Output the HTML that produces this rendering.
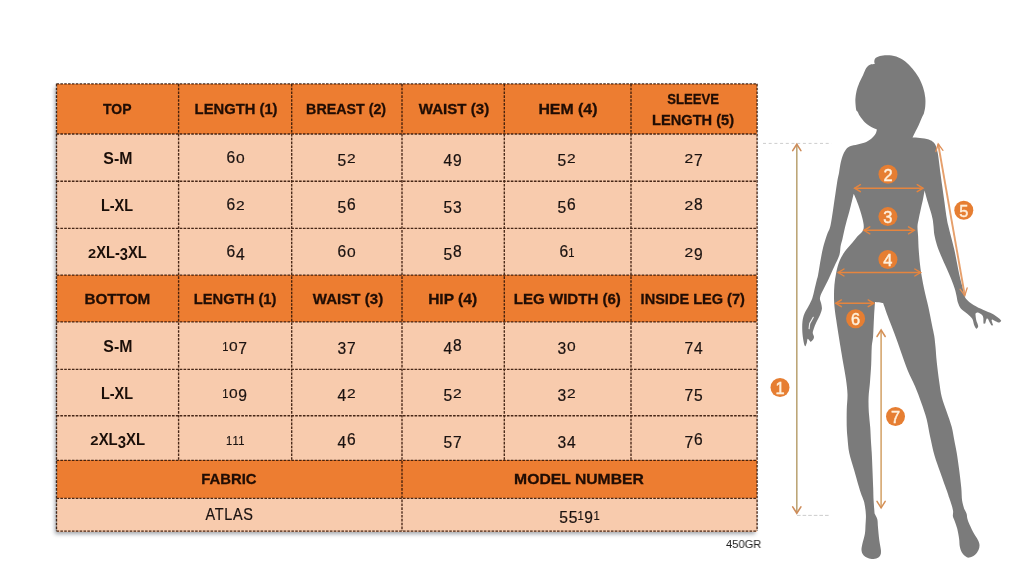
<!DOCTYPE html>
<html><head><meta charset="utf-8"><title>Size chart</title>
<style>
html,body{margin:0;padding:0;background:#fff;}
body{width:1024px;height:584px;position:relative;overflow:hidden;font-family:"Liberation Sans",sans-serif;color:#1c0d06;}
.bg{position:absolute;}
.c{position:absolute;display:flex;align-items:center;justify-content:center;text-align:center;white-space:nowrap;}
.c{will-change:transform}
.c span{display:inline-block;transform-origin:50% 50%;position:relative;top:1.20px}
.h span{top:0.00px;-webkit-text-stroke:0.3px #200d04;font-weight:bold;font-size:15.00px;transform:scaleX(0.880);line-height:21px;color:#200d04;}
.l span{top:0.70px;font-weight:bold;font-size:16.20px;transform:scaleX(0.900);color:#1a0e08;}
.n span{top:0.50px;font-size:16.60px;transform:scaleX(0.940);color:#1a1210;letter-spacing:0.75px;-webkit-text-stroke:0.22px #1a1210;}
i{font-style:normal;position:relative;display:inline-block}
i.o{transform:scaleY(0.78);transform-origin:50% 81%;}
i.one{margin:0 -1.75px;transform:scale(0.72,0.78);}
i.d{top:0.18em;}
b{display:block;transform:scaleX(0.90);}
svg{position:absolute;left:0;top:0;}
.note{will-change:transform;position:absolute;left:726px;top:538.3px;font-size:11.4px;color:#222;transform:scaleX(0.98);transform-origin:0 0;line-height:12px}
</style></head><body>

<div class="bg" style="left:56.5px;top:83.8px;width:700.6px;height:447.3px;box-shadow:-2px 2.5px 4px rgba(20,30,45,0.4);"></div>
<div class="bg" style="left:56.5px;top:83.8px;width:700.6px;height:50.7px;background:#ED7D31"></div>
<div class="bg" style="left:56.5px;top:134.0px;width:700.6px;height:47.7px;background:#F8CBAD"></div>
<div class="bg" style="left:56.5px;top:181.2px;width:700.6px;height:47.7px;background:#F8CBAD"></div>
<div class="bg" style="left:56.5px;top:228.4px;width:700.6px;height:47.2px;background:#F8CBAD"></div>
<div class="bg" style="left:56.5px;top:275.1px;width:700.6px;height:47.3px;background:#ED7D31"></div>
<div class="bg" style="left:56.5px;top:321.9px;width:700.6px;height:47.9px;background:#F8CBAD"></div>
<div class="bg" style="left:56.5px;top:369.3px;width:700.6px;height:46.9px;background:#F8CBAD"></div>
<div class="bg" style="left:56.5px;top:415.7px;width:700.6px;height:45.1px;background:#F8CBAD"></div>
<div class="bg" style="left:56.5px;top:460.3px;width:700.6px;height:38.6px;background:#ED7D31"></div>
<div class="bg" style="left:56.5px;top:498.4px;width:700.6px;height:33.2px;background:#F8CBAD"></div>
<div class="c h" style="left:56.5px;top:83.8px;width:122.1px;height:50.2px"><span style="transform:scaleX(0.9311);left:-0.50px;top:-0.60px">TOP</span></div>
<div class="c h" style="left:178.6px;top:83.8px;width:113.1px;height:50.2px"><span style="transform:scaleX(0.9853);left:0.16px;top:-0.60px">LENGTH (1)</span></div>
<div class="c h" style="left:291.7px;top:83.8px;width:110.3px;height:50.2px"><span style="transform:scaleX(0.9505);left:-0.62px;top:-0.60px">BREAST (2)</span></div>
<div class="c h" style="left:402.0px;top:83.8px;width:102.3px;height:50.2px"><span style="transform:scaleX(1.0046);left:0.63px;top:-0.60px">WAIST (3)</span></div>
<div class="c h" style="left:504.3px;top:83.8px;width:126.7px;height:50.2px"><span style="transform:scaleX(1.0563);left:0.61px;top:-0.60px">HEM (4)</span></div>
<div class="c h" style="left:631.0px;top:83.8px;width:126.1px;height:50.2px"><span style="transform:scaleX(0.9737);left:-0.84px;top:-0.60px"><b>SLEEVE</b>LENGTH (5)</span></div>
<div class="c l" style="left:56.5px;top:134.0px;width:122.1px;height:47.2px"><span style="transform:scaleX(0.9803);left:-0.63px;top:0.70px">S-M</span></div>
<div class="c n" style="left:178.6px;top:134.0px;width:113.1px;height:47.2px"><span><i>6</i><i class="o">0</i></span></div>
<div class="c n" style="left:291.7px;top:134.0px;width:110.3px;height:47.2px"><span><i class="d">5</i><i class="o">2</i></span></div>
<div class="c n" style="left:402.0px;top:134.0px;width:102.3px;height:47.2px"><span><i class="d">4</i><i class="d">9</i></span></div>
<div class="c n" style="left:504.3px;top:134.0px;width:126.7px;height:47.2px"><span><i class="d">5</i><i class="o">2</i></span></div>
<div class="c n" style="left:631.0px;top:134.0px;width:126.1px;height:47.2px"><span><i class="o">2</i><i class="d">7</i></span></div>
<div class="c l" style="left:56.5px;top:181.2px;width:122.1px;height:47.2px"><span style="transform:scaleX(0.8928);left:-1.06px;top:1.10px">L-XL</span></div>
<div class="c n" style="left:178.6px;top:181.2px;width:113.1px;height:47.2px"><span style="top:0.90px"><i>6</i><i class="o">2</i></span></div>
<div class="c n" style="left:291.7px;top:181.2px;width:110.3px;height:47.2px"><span style="top:0.90px"><i class="d">5</i><i>6</i></span></div>
<div class="c n" style="left:402.0px;top:181.2px;width:102.3px;height:47.2px"><span style="top:0.90px"><i class="d">5</i><i class="d">3</i></span></div>
<div class="c n" style="left:504.3px;top:181.2px;width:126.7px;height:47.2px"><span style="top:0.90px"><i class="d">5</i><i>6</i></span></div>
<div class="c n" style="left:631.0px;top:181.2px;width:126.1px;height:47.2px"><span style="top:0.90px"><i class="o">2</i><i>8</i></span></div>
<div class="c l" style="left:56.5px;top:228.4px;width:122.1px;height:46.7px"><span style="transform:scaleX(0.9039);left:-0.37px;top:0.70px"><i class="o">2</i>XL-<i class="d">3</i>XL</span></div>
<div class="c n" style="left:178.6px;top:228.4px;width:113.1px;height:46.7px"><span><i>6</i><i class="d">4</i></span></div>
<div class="c n" style="left:291.7px;top:228.4px;width:110.3px;height:46.7px"><span><i>6</i><i class="o">0</i></span></div>
<div class="c n" style="left:402.0px;top:228.4px;width:102.3px;height:46.7px"><span><i class="d">5</i><i>8</i></span></div>
<div class="c n" style="left:504.3px;top:228.4px;width:126.7px;height:46.7px"><span><i>6</i><i class="o one">1</i></span></div>
<div class="c n" style="left:631.0px;top:228.4px;width:126.1px;height:46.7px"><span><i class="o">2</i><i class="d">9</i></span></div>
<div class="c h" style="left:56.5px;top:275.1px;width:122.1px;height:46.8px"><span style="transform:scaleX(1.0177);left:-0.87px;top:0.00px">BOTTOM</span></div>
<div class="c h" style="left:178.6px;top:275.1px;width:113.1px;height:46.8px"><span style="transform:scaleX(0.9816);left:-0.34px;top:0.00px">LENGTH (1)</span></div>
<div class="c h" style="left:291.7px;top:275.1px;width:110.3px;height:46.8px"><span style="transform:scaleX(1.0046);left:0.38px;top:0.00px">WAIST (3)</span></div>
<div class="c h" style="left:402.0px;top:275.1px;width:102.3px;height:46.8px"><span style="transform:scaleX(1.0365);left:-0.13px;top:0.00px">HIP (4)</span></div>
<div class="c h" style="left:504.3px;top:275.1px;width:126.7px;height:46.8px"><span style="transform:scaleX(1.0029);left:-0.46px;top:0.00px">LEG WIDTH (6)</span></div>
<div class="c h" style="left:631.0px;top:275.1px;width:126.1px;height:46.8px"><span style="transform:scaleX(0.9700);left:-1.00px;top:0.00px">INSIDE LEG (7)</span></div>
<div class="c l" style="left:56.5px;top:321.9px;width:122.1px;height:47.4px"><span style="transform:scaleX(0.9803);left:-0.63px;top:0.70px">S-M</span></div>
<div class="c n" style="left:178.6px;top:321.9px;width:113.1px;height:47.4px"><span><i class="o one">1</i><i class="o">0</i><i class="d">7</i></span></div>
<div class="c n" style="left:291.7px;top:321.9px;width:110.3px;height:47.4px"><span><i class="d">3</i><i class="d">7</i></span></div>
<div class="c n" style="left:402.0px;top:321.9px;width:102.3px;height:47.4px"><span><i class="d">4</i><i>8</i></span></div>
<div class="c n" style="left:504.3px;top:321.9px;width:126.7px;height:47.4px"><span><i class="d">3</i><i class="o">0</i></span></div>
<div class="c n" style="left:631.0px;top:321.9px;width:126.1px;height:47.4px"><span><i class="d">7</i><i class="d">4</i></span></div>
<div class="c l" style="left:56.5px;top:369.3px;width:122.1px;height:46.4px"><span style="transform:scaleX(0.8928);left:-1.06px;top:1.10px">L-XL</span></div>
<div class="c n" style="left:178.6px;top:369.3px;width:113.1px;height:46.4px"><span style="top:0.90px"><i class="o one">1</i><i class="o">0</i><i class="d">9</i></span></div>
<div class="c n" style="left:291.7px;top:369.3px;width:110.3px;height:46.4px"><span style="top:0.90px"><i class="d">4</i><i class="o">2</i></span></div>
<div class="c n" style="left:402.0px;top:369.3px;width:102.3px;height:46.4px"><span style="top:0.90px"><i class="d">5</i><i class="o">2</i></span></div>
<div class="c n" style="left:504.3px;top:369.3px;width:126.7px;height:46.4px"><span style="top:0.90px"><i class="d">3</i><i class="o">2</i></span></div>
<div class="c n" style="left:631.0px;top:369.3px;width:126.1px;height:46.4px"><span style="top:0.90px"><i class="d">7</i><i class="d">5</i></span></div>
<div class="c l" style="left:56.5px;top:415.7px;width:122.1px;height:44.6px"><span style="transform:scaleX(0.9214);left:-0.13px;top:1.50px"><i class="o">2</i>XL<i class="d">3</i>XL</span></div>
<div class="c n" style="left:178.6px;top:415.7px;width:113.1px;height:44.6px"><span style="top:1.30px"><i class="o one">1</i><i class="o one">1</i><i class="o one">1</i></span></div>
<div class="c n" style="left:291.7px;top:415.7px;width:110.3px;height:44.6px"><span style="top:1.30px"><i class="d">4</i><i>6</i></span></div>
<div class="c n" style="left:402.0px;top:415.7px;width:102.3px;height:44.6px"><span style="top:1.30px"><i class="d">5</i><i class="d">7</i></span></div>
<div class="c n" style="left:504.3px;top:415.7px;width:126.7px;height:44.6px"><span style="top:1.30px"><i class="d">3</i><i class="d">4</i></span></div>
<div class="c n" style="left:631.0px;top:415.7px;width:126.1px;height:44.6px"><span style="top:1.30px"><i class="d">7</i><i>6</i></span></div>
<div class="c h" style="left:56.5px;top:460.3px;width:345.5px;height:38.1px"><span style="transform:scaleX(0.9895);left:-0.77px;top:-0.80px">FABRIC</span></div>
<div class="c h" style="left:402.0px;top:460.3px;width:355.1px;height:38.1px"><span style="transform:scaleX(1.0466);left:-0.39px;top:-0.80px">MODEL NUMBER</span></div>
<div class="c n" style="left:56.5px;top:498.4px;width:345.5px;height:32.7px"><span style="transform:scaleX(0.8714);left:0.14px;top:0.50px">ATLAS</span></div>
<div class="c n" style="left:402.0px;top:498.4px;width:355.1px;height:32.7px"><span><i class="d">5</i><i class="d">5</i><i class="o one">1</i><i class="d">9</i><i class="o one">1</i></span></div>
<div class="note">450GR</div>
<svg width="1024" height="584" viewBox="0 0 1024 584">
<g stroke="#38190a" stroke-width="1.35" stroke-dasharray="2.6 1.25" fill="none" opacity="0.92">
<line x1="56.5" y1="83.8" x2="757.1" y2="83.8"/>
<line x1="56.5" y1="134.0" x2="757.1" y2="134.0"/>
<line x1="56.5" y1="181.2" x2="757.1" y2="181.2"/>
<line x1="56.5" y1="228.4" x2="757.1" y2="228.4"/>
<line x1="56.5" y1="275.1" x2="757.1" y2="275.1"/>
<line x1="56.5" y1="321.9" x2="757.1" y2="321.9"/>
<line x1="56.5" y1="369.3" x2="757.1" y2="369.3"/>
<line x1="56.5" y1="415.7" x2="757.1" y2="415.7"/>
<line x1="56.5" y1="460.3" x2="757.1" y2="460.3"/>
<line x1="56.5" y1="498.4" x2="757.1" y2="498.4"/>
<line x1="56.5" y1="531.1" x2="757.1" y2="531.1"/>
<line x1="56.5" y1="83.8" x2="56.5" y2="531.1"/>
<line x1="757.1" y1="83.8" x2="757.1" y2="531.1"/>
<line x1="178.6" y1="83.8" x2="178.6" y2="460.3"/>
<line x1="291.7" y1="83.8" x2="291.7" y2="460.3"/>
<line x1="504.3" y1="83.8" x2="504.3" y2="460.3"/>
<line x1="631.0" y1="83.8" x2="631.0" y2="460.3"/>
<line x1="402.0" y1="83.8" x2="402.0" y2="531.1"/>
</g>
<path d="M874.75 64.00 C874.67 63.53 874.16 62.18 874.30 61.20 C874.44 60.22 874.65 58.97 875.60 58.10 C876.55 57.23 878.02 56.48 880.00 56.00 C881.98 55.52 884.79 55.17 887.50 55.25 C890.21 55.33 893.33 55.50 896.25 56.50 C899.17 57.50 902.29 59.21 905.00 61.25 C907.71 63.29 910.21 66.04 912.50 68.75 C914.79 71.46 916.98 74.38 918.75 77.50 C920.52 80.62 922.02 84.17 923.10 87.50 C924.18 90.83 924.89 94.38 925.25 97.50 C925.61 100.62 925.46 103.67 925.25 106.25 C925.04 108.83 924.46 111.33 924.00 113.00 C923.54 114.67 923.38 114.25 922.50 116.25 C921.62 118.25 920.00 122.29 918.75 125.00 C917.50 127.71 916.04 130.42 915.00 132.50 C913.96 134.58 912.92 136.67 912.50 137.50 C913.75 137.57 917.29 137.58 920.00 137.90 C922.71 138.22 926.46 138.63 928.75 139.40 C931.04 140.17 932.50 141.25 933.75 142.50 C935.00 143.75 935.52 144.82 936.25 146.90 C936.98 148.98 937.58 151.98 938.10 155.00 C938.62 158.02 939.02 162.00 939.40 165.00 C939.78 168.00 939.93 169.50 940.40 173.00 C940.87 176.50 941.55 181.33 942.20 186.00 C942.85 190.67 943.55 195.67 944.30 201.00 C945.05 206.33 946.07 214.00 946.70 218.00 C947.33 222.00 947.34 221.75 948.10 225.00 C948.86 228.25 950.20 233.33 951.25 237.50 C952.30 241.67 953.46 245.83 954.40 250.00 C955.34 254.17 956.07 258.33 956.90 262.50 C957.73 266.67 958.57 271.25 959.40 275.00 C960.23 278.75 961.10 281.92 961.90 285.00 C962.70 288.08 963.52 291.21 964.20 293.50 C964.88 295.79 964.45 296.83 966.00 298.75 C967.55 300.67 970.58 303.12 973.50 305.00 C976.42 306.88 980.38 308.54 983.50 310.00 C986.62 311.46 989.75 312.40 992.25 313.75 C994.75 315.10 997.00 316.93 998.50 318.10 C1000.00 319.28 1000.79 320.35 1001.25 320.80 C1000.92 321.10 1000.17 322.47 999.30 322.60 C998.42 322.73 997.12 322.12 996.00 321.60 C994.88 321.08 993.17 319.85 992.60 319.50 C992.43 319.65 991.50 319.43 991.60 320.40 C991.70 321.37 992.93 324.48 993.20 325.30 C992.87 325.25 992.03 326.02 991.20 325.00 C990.37 323.98 988.70 320.17 988.20 319.20 C987.93 319.12 987.10 317.97 986.60 318.70 C986.10 319.43 985.43 322.78 985.20 323.60 C984.93 323.57 983.90 324.27 983.60 323.40 C983.30 322.53 983.43 319.23 983.40 318.40 C983.21 317.87 983.22 316.17 982.25 315.20 C981.28 314.23 978.74 312.84 977.60 312.60 C976.46 312.36 975.77 313.56 975.40 313.75 C975.53 314.79 975.73 317.92 976.20 320.00 C976.67 322.08 978.18 324.75 978.20 326.25 C978.22 327.75 976.62 328.54 976.30 329.00 C975.93 328.33 974.77 326.71 974.10 325.00 C973.43 323.29 973.39 320.62 972.25 318.75 C971.11 316.88 969.12 315.42 967.25 313.75 C965.38 312.08 962.56 310.62 961.00 308.75 C959.44 306.88 958.63 304.58 957.90 302.50 C957.17 300.42 957.12 298.54 956.60 296.25 C956.08 293.96 955.67 291.67 954.75 288.75 C953.83 285.83 952.52 282.29 951.10 278.75 C949.68 275.21 947.89 271.25 946.25 267.50 C944.61 263.75 942.81 260.00 941.25 256.25 C939.69 252.50 938.04 248.54 936.90 245.00 C935.76 241.46 934.97 238.17 934.40 235.00 C933.83 231.83 933.80 228.67 933.50 226.00 C933.20 223.33 933.08 221.46 932.60 219.00 C932.12 216.54 931.45 214.21 930.60 211.25 C929.75 208.29 928.50 204.69 927.50 201.25 C926.50 197.81 925.08 192.38 924.60 190.60 C924.35 191.96 923.77 195.52 923.10 198.75 C922.43 201.98 921.33 206.67 920.60 210.00 C919.88 213.33 919.27 216.04 918.75 218.75 C918.23 221.46 917.61 223.33 917.50 226.25 C917.39 229.17 917.88 232.12 918.10 236.25 C918.32 240.38 918.40 245.62 918.80 251.00 C919.20 256.38 919.62 262.21 920.50 268.50 C921.38 274.79 922.77 282.25 924.10 288.75 C925.43 295.25 927.14 301.25 928.50 307.50 C929.86 313.75 931.29 321.50 932.25 326.25 C933.21 331.00 933.71 332.54 934.25 336.00 C934.79 339.46 935.08 342.67 935.50 347.00 C935.92 351.33 936.12 356.17 936.75 362.00 C937.38 367.83 938.42 376.17 939.25 382.00 C940.08 387.83 940.50 392.00 941.75 397.00 C943.00 402.00 945.08 407.00 946.75 412.00 C948.42 417.00 950.50 422.33 951.75 427.00 C953.00 431.67 953.42 435.67 954.25 440.00 C955.08 444.33 955.92 447.92 956.75 453.00 C957.58 458.08 958.49 464.67 959.25 470.50 C960.01 476.33 960.82 483.00 961.30 488.00 C961.77 493.00 961.61 497.00 962.10 500.50 C962.59 504.00 963.89 507.58 964.25 509.00 C964.64 509.79 966.08 512.12 966.60 513.75 C967.12 515.38 966.88 516.88 967.40 518.75 C967.92 520.62 968.63 522.50 969.75 525.00 C970.87 527.50 972.74 531.25 974.10 533.75 C975.46 536.25 977.00 538.12 977.90 540.00 C978.80 541.88 979.40 543.33 979.50 545.00 C979.60 546.67 979.29 548.33 978.50 550.00 C977.71 551.67 976.32 553.73 974.75 555.00 C973.18 556.27 970.66 557.39 969.10 557.60 C967.54 557.81 966.65 557.20 965.40 556.25 C964.15 555.30 962.54 553.57 961.60 551.90 C960.66 550.23 960.17 548.44 959.75 546.25 C959.33 544.06 959.52 541.67 959.10 538.75 C958.68 535.83 957.98 531.67 957.25 528.75 C956.52 525.83 955.48 523.33 954.75 521.25 C954.02 519.17 953.17 517.92 952.90 516.25 C952.62 514.58 953.32 513.12 953.10 511.25 C952.88 509.38 952.27 507.29 951.60 505.00 C950.93 502.71 949.91 499.92 949.10 497.50 C948.29 495.08 948.18 494.58 946.75 490.50 C945.32 486.42 942.54 478.83 940.50 473.00 C938.46 467.17 936.22 461.50 934.50 455.50 C932.78 449.50 931.52 443.08 930.20 437.00 C928.88 430.92 928.10 424.75 926.60 419.00 C925.10 413.25 923.13 407.96 921.20 402.50 C919.27 397.04 917.28 391.67 915.00 386.25 C912.72 380.83 909.83 375.71 907.50 370.00 C905.17 364.29 903.12 357.92 901.00 352.00 C898.88 346.08 896.87 340.08 894.80 334.50 C892.73 328.92 890.55 323.73 888.60 318.50 C886.65 313.27 884.02 305.67 883.10 303.10 C882.42 302.97 880.35 302.50 879.00 302.30 C877.65 302.10 875.67 301.97 875.00 301.90 C874.83 304.50 874.32 311.77 874.00 317.50 C873.68 323.23 873.48 331.33 873.10 336.25 C872.73 341.17 872.07 342.29 871.75 347.00 C871.43 351.71 871.49 358.67 871.20 364.50 C870.91 370.33 870.43 376.58 870.00 382.00 C869.57 387.42 868.80 392.00 868.60 397.00 C868.40 402.00 868.53 407.00 868.80 412.00 C869.07 417.00 869.83 422.00 870.20 427.00 C870.57 432.00 870.74 437.67 871.00 442.00 C871.26 446.33 871.50 448.25 871.75 453.00 C872.00 457.75 872.26 464.67 872.50 470.50 C872.74 476.33 873.02 483.00 873.20 488.00 C873.38 493.00 873.37 496.27 873.60 500.50 C873.83 504.73 874.43 511.25 874.60 513.40 C875.05 514.37 876.73 516.85 877.30 519.20 C877.87 521.55 877.67 524.03 878.00 527.50 C878.33 530.97 878.77 536.25 879.25 540.00 C879.73 543.75 880.71 547.50 880.90 550.00 C881.09 552.50 880.98 553.65 880.40 555.00 C879.82 556.35 878.84 557.42 877.40 558.10 C875.96 558.78 873.52 559.18 871.75 559.10 C869.98 559.02 868.21 558.38 866.75 557.60 C865.29 556.82 863.88 555.67 863.00 554.40 C862.12 553.13 861.60 551.77 861.50 550.00 C861.40 548.23 861.83 546.46 862.40 543.75 C862.97 541.04 864.38 536.88 864.90 533.75 C865.42 530.62 865.33 528.12 865.50 525.00 C865.67 521.88 866.11 518.75 865.90 515.00 C865.69 511.25 865.18 506.42 864.25 502.50 C863.32 498.58 861.97 496.83 860.30 491.50 C858.63 486.17 856.09 476.92 854.25 470.50 C852.41 464.08 850.38 458.42 849.25 453.00 C848.12 447.58 847.92 442.33 847.50 438.00 C847.08 433.67 846.88 431.75 846.75 427.00 C846.62 422.25 846.62 414.92 846.75 409.50 C846.88 404.08 847.62 399.50 847.50 394.50 C847.38 389.50 846.75 384.92 846.00 379.50 C845.25 374.08 843.92 367.42 843.00 362.00 C842.08 356.58 841.21 351.29 840.50 347.00 C839.79 342.71 839.46 340.75 838.75 336.25 C838.04 331.75 836.94 324.71 836.25 320.00 C835.56 315.29 834.98 311.75 834.60 308.00 C834.23 304.25 834.03 301.33 834.00 297.50 C833.97 293.67 834.02 289.17 834.40 285.00 C834.77 280.83 835.42 276.46 836.25 272.50 C837.08 268.54 837.94 264.79 839.40 261.25 C840.86 257.71 842.82 254.38 845.00 251.25 C847.18 248.12 850.42 245.00 852.50 242.50 C854.58 240.00 855.83 238.12 857.50 236.25 C859.17 234.38 861.46 232.92 862.50 231.25 C863.54 229.58 863.75 228.33 863.75 226.25 C863.75 224.17 863.12 221.46 862.50 218.75 C861.88 216.04 860.93 212.92 860.00 210.00 C859.07 207.08 857.94 203.96 856.90 201.25 C855.86 198.54 854.27 195.00 853.75 193.75 C853.44 195.00 852.62 198.33 851.90 201.25 C851.17 204.17 850.23 208.12 849.40 211.25 C848.57 214.38 847.73 216.88 846.90 220.00 C846.07 223.12 845.13 226.88 844.40 230.00 C843.67 233.12 843.13 236.04 842.50 238.75 C841.87 241.46 841.12 243.54 840.60 246.25 C840.08 248.96 840.43 251.67 839.40 255.00 C838.37 258.33 836.17 262.29 834.40 266.25 C832.62 270.21 830.52 275.00 828.75 278.75 C826.98 282.50 825.21 285.62 823.75 288.75 C822.29 291.88 820.42 295.00 820.00 297.50 C819.58 300.00 820.93 301.88 821.25 303.75 C821.57 305.62 822.11 306.88 821.90 308.75 C821.69 310.62 820.94 312.71 820.00 315.00 C819.06 317.29 817.29 320.21 816.25 322.50 C815.21 324.79 814.33 326.98 813.75 328.75 C813.17 330.52 812.71 331.74 812.75 333.10 C812.79 334.46 814.00 335.75 814.00 336.90 C814.00 338.05 813.32 339.17 812.75 340.00 C812.18 340.83 810.96 341.58 810.60 341.90 C810.12 341.38 808.37 338.65 807.75 338.75 C807.13 338.85 807.26 341.25 806.90 342.50 C806.54 343.75 805.82 345.62 805.60 346.25 C805.40 346.04 804.82 346.25 804.40 345.00 C803.98 343.75 803.46 341.25 803.10 338.75 C802.74 336.25 802.35 332.92 802.25 330.00 C802.15 327.08 802.14 323.96 802.50 321.25 C802.86 318.54 803.36 316.32 804.40 313.75 C805.44 311.18 807.43 308.38 808.75 305.80 C810.07 303.23 811.34 301.02 812.30 298.30 C813.26 295.58 813.75 292.55 814.50 289.50 C815.25 286.45 816.20 282.42 816.80 280.00 C817.40 277.58 817.47 278.33 818.10 275.00 C818.73 271.67 819.77 264.58 820.60 260.00 C821.43 255.42 822.05 251.67 823.10 247.50 C824.15 243.33 825.75 238.33 826.90 235.00 C828.05 231.67 829.17 230.42 830.00 227.50 C830.83 224.58 831.27 221.25 831.90 217.50 C832.52 213.75 833.13 209.17 833.75 205.00 C834.37 200.83 834.98 196.67 835.60 192.50 C836.23 188.33 836.93 183.25 837.50 180.00 C838.07 176.75 838.54 175.50 839.00 173.00 C839.46 170.50 839.67 167.79 840.25 165.00 C840.83 162.21 841.61 158.75 842.50 156.25 C843.39 153.75 844.35 151.67 845.60 150.00 C846.85 148.33 848.02 147.18 850.00 146.25 C851.98 145.32 855.00 145.03 857.50 144.40 C860.00 143.78 862.71 143.44 865.00 142.50 C867.29 141.56 869.48 140.21 871.25 138.75 C873.02 137.29 874.66 135.31 875.60 133.75 C876.54 132.19 876.68 130.12 876.90 129.40 C875.96 128.98 873.23 128.05 871.25 126.90 C869.27 125.75 866.88 124.28 865.00 122.50 C863.12 120.72 861.23 118.03 860.00 116.25 C858.77 114.47 858.22 112.81 857.60 111.80 C856.98 110.79 856.63 111.33 856.30 110.20 C855.97 109.07 855.75 106.91 855.60 105.00 C855.45 103.09 855.25 101.04 855.40 98.75 C855.55 96.46 855.83 93.96 856.50 91.25 C857.17 88.54 858.30 85.21 859.40 82.50 C860.50 79.79 861.96 77.40 863.10 75.00 C864.24 72.60 865.10 69.81 866.25 68.10 C867.40 66.39 868.58 65.43 870.00 64.75 C871.42 64.07 873.96 64.12 874.75 64.00 Z" fill="#7b7b7b"/>
<path d="M813.3 317.3 L809.7 323.6 L809.1 328.6" stroke="#fff" stroke-width="1.15" stroke-linecap="round" stroke-linejoin="round" fill="none" opacity="0.9"/>
<g stroke="#cdcdcd" stroke-width="1" stroke-dasharray="3 2.7" fill="none"><line x1="763" y1="143.4" x2="831.5" y2="143.4"/><line x1="797" y1="515.4" x2="830.5" y2="515.4" stroke-dasharray="3.6 2" stroke="#c6c6c6" stroke-width="0.9"/></g>
<line x1="854.60" y1="188.20" x2="923.00" y2="188.20" stroke="#E5853F" stroke-width="1.45"/><polyline points="860.40,184.70 854.60,188.20 860.40,191.70" fill="none" stroke="#E5853F" stroke-width="1.45" stroke-linejoin="miter" stroke-linecap="round"/><polyline points="917.20,191.70 923.00,188.20 917.20,184.70" fill="none" stroke="#E5853F" stroke-width="1.45" stroke-linejoin="miter" stroke-linecap="round"/>
<line x1="864.00" y1="230.30" x2="914.30" y2="230.30" stroke="#E5853F" stroke-width="1.45"/><polyline points="869.80,226.80 864.00,230.30 869.80,233.80" fill="none" stroke="#E5853F" stroke-width="1.45" stroke-linejoin="miter" stroke-linecap="round"/><polyline points="908.50,233.80 914.30,230.30 908.50,226.80" fill="none" stroke="#E5853F" stroke-width="1.45" stroke-linejoin="miter" stroke-linecap="round"/>
<line x1="838.20" y1="272.50" x2="920.60" y2="272.50" stroke="#E5853F" stroke-width="1.45"/><polyline points="844.00,269.00 838.20,272.50 844.00,276.00" fill="none" stroke="#E5853F" stroke-width="1.45" stroke-linejoin="miter" stroke-linecap="round"/><polyline points="914.80,276.00 920.60,272.50 914.80,269.00" fill="none" stroke="#E5853F" stroke-width="1.45" stroke-linejoin="miter" stroke-linecap="round"/>
<line x1="835.80" y1="303.30" x2="873.80" y2="303.30" stroke="#E5853F" stroke-width="1.45"/><polyline points="841.40,299.90 835.80,303.30 841.40,306.70" fill="none" stroke="#E5853F" stroke-width="1.45" stroke-linejoin="miter" stroke-linecap="round"/><polyline points="868.20,306.70 873.80,303.30 868.20,299.90" fill="none" stroke="#E5853F" stroke-width="1.45" stroke-linejoin="miter" stroke-linecap="round"/>
<line x1="938.20" y1="144.00" x2="964.80" y2="295.50" stroke="#E6A06C" stroke-width="1.90"/><polyline points="942.96,150.27 938.20,144.00 935.86,151.52" fill="none" stroke="#E0915A" stroke-width="1.30" stroke-linejoin="miter" stroke-linecap="round"/><polyline points="960.04,289.23 964.80,295.50 967.14,287.98" fill="none" stroke="#E0915A" stroke-width="1.30" stroke-linejoin="miter" stroke-linecap="round"/>
<line x1="796.80" y1="144.30" x2="796.80" y2="513.20" stroke="#BDA678" stroke-width="1.60"/><polyline points="800.90,150.60 796.80,144.30 792.70,150.60" fill="none" stroke="#CE8C5A" stroke-width="1.60" stroke-linejoin="miter" stroke-linecap="round"/><polyline points="792.70,506.90 796.80,513.20 800.90,506.90" fill="none" stroke="#CE8C5A" stroke-width="1.60" stroke-linejoin="miter" stroke-linecap="round"/>
<line x1="881.10" y1="330.00" x2="881.10" y2="507.90" stroke="#D3A064" stroke-width="1.50"/><polyline points="885.20,336.50 881.10,330.00 877.00,336.50" fill="none" stroke="#D58F55" stroke-width="1.50" stroke-linejoin="miter" stroke-linecap="round"/><polyline points="877.00,501.40 881.10,507.90 885.20,501.40" fill="none" stroke="#D58F55" stroke-width="1.50" stroke-linejoin="miter" stroke-linecap="round"/>
<circle cx="888.00" cy="174.30" r="9.50" fill="#E67E32"/><text x="888.00" y="180.60" text-anchor="middle" font-family="Liberation Sans, sans-serif" font-size="16.4" fill="#fff0dc" stroke="#fff0dc" stroke-width="0.45">2</text>
<circle cx="887.90" cy="216.60" r="9.50" fill="#E67E32"/><text x="887.90" y="222.90" text-anchor="middle" font-family="Liberation Sans, sans-serif" font-size="16.4" fill="#fff0dc" stroke="#fff0dc" stroke-width="0.45">3</text>
<circle cx="887.90" cy="259.50" r="9.50" fill="#E67E32"/><text x="887.90" y="265.80" text-anchor="middle" font-family="Liberation Sans, sans-serif" font-size="16.4" fill="#fff0dc" stroke="#fff0dc" stroke-width="0.45">4</text>
<circle cx="963.80" cy="210.30" r="9.50" fill="#E67E32"/><text x="963.80" y="216.60" text-anchor="middle" font-family="Liberation Sans, sans-serif" font-size="16.4" fill="#fff0dc" stroke="#fff0dc" stroke-width="0.45">5</text>
<circle cx="855.60" cy="318.70" r="9.50" fill="#E67E32"/><text x="855.60" y="325.00" text-anchor="middle" font-family="Liberation Sans, sans-serif" font-size="16.4" fill="#fff0dc" stroke="#fff0dc" stroke-width="0.45">6</text>
<circle cx="780.00" cy="387.50" r="9.50" fill="#E67E32"/><text x="780.00" y="393.80" text-anchor="middle" font-family="Liberation Sans, sans-serif" font-size="16.4" fill="#fff0dc" stroke="#fff0dc" stroke-width="0.45">1</text>
<circle cx="895.50" cy="416.50" r="9.50" fill="#E67E32"/><text x="895.50" y="422.80" text-anchor="middle" font-family="Liberation Sans, sans-serif" font-size="16.4" fill="#fff0dc" stroke="#fff0dc" stroke-width="0.45">7</text>
</svg>
</body></html>
